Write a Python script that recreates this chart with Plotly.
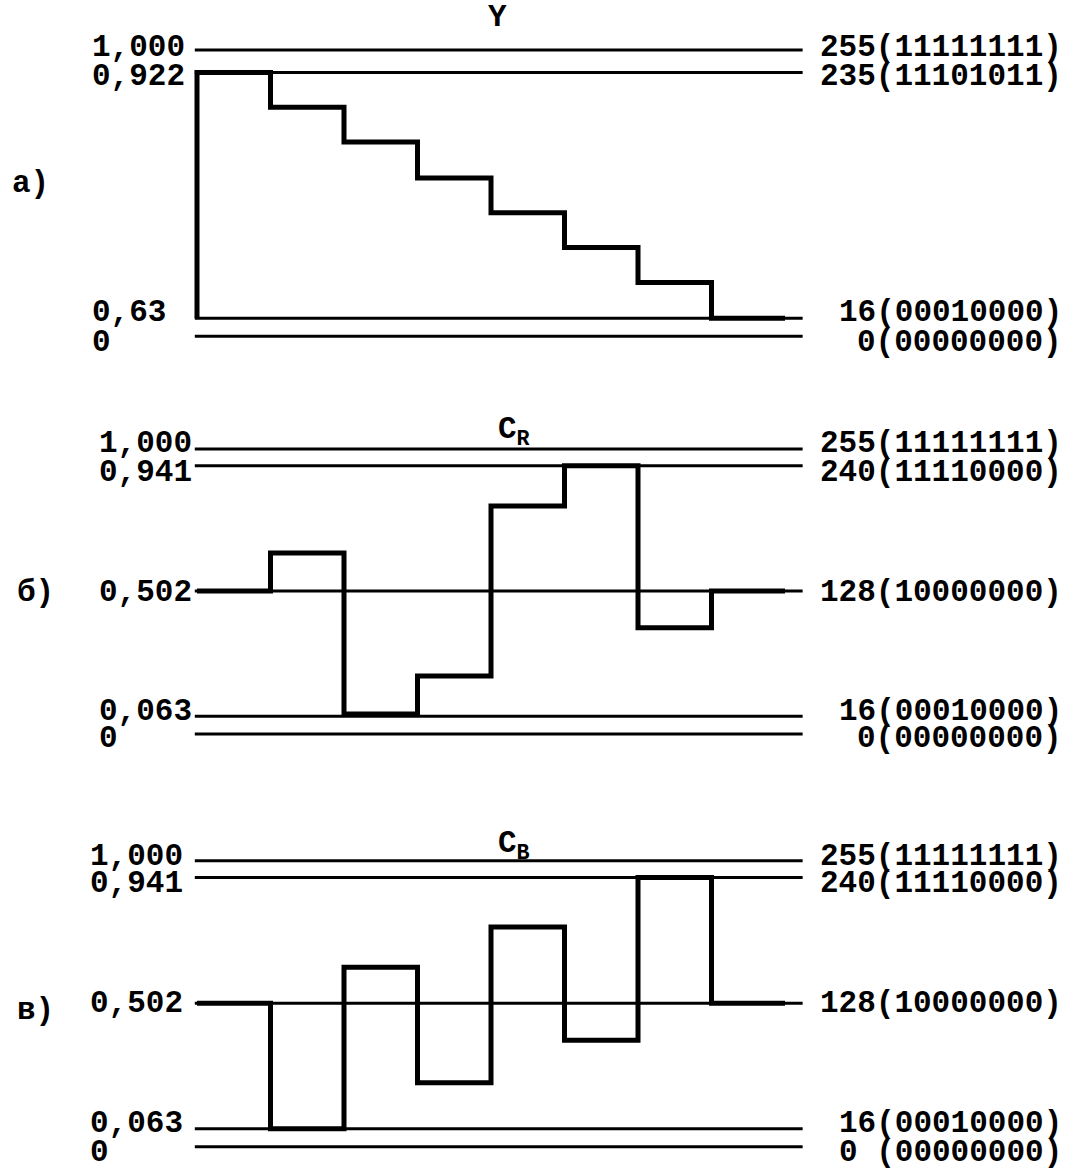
import plotly.graph_objects as go

# ---------------- data ----------------
bars = list(range(9))                      # bar boundaries (8 colour bars)
y_black = 16
y_levels = [235, 204, 173, 141, 110, 79, 48, 16]
cr_levels = [128, 162, 18, 52, 204, 240, 95, 128]
cb_levels = [128, 16, 160, 57, 196, 95, 240, 128]

y_ref_codes = [255, 235, 16, 0]
y_left_labels = ["1,000", "0,922", "0,63", "0"]
y_right_labels = ["255(11111111)", "235(11101011)", "16(00010000)", "0(00000000)"]

c_ref_codes = [255, 240, 128, 16, 0]
c_left_labels = ["1,000", "0,941", "0,502", "0,063", "0"]
cr_right_labels = ["255(11111111)", "240(11110000)", "128(10000000)", "16(00010000)", "0(00000000)"]
cb_right_labels = ["255(11111111)", "240(11110000)", "128(10000000)", "16(00010000)", "0 (00000000)"]

titles = ["Y", "C<sub>R</sub>", "C<sub>B</sub>"]
panel_tags = ["а)", "б)", "в)"]

# ---------------- layout ----------------
W, H = 1074, 1175
FONT = dict(family="Liberation Mono", size=31, color="black", weight="bold")
ref_x = [-0.03, 8.24]

fig = go.Figure()

panels = [
    dict(axis="y", levels=y_levels, start=[y_black], refs=y_ref_codes,
         left=y_left_labels, right=y_right_labels, lx=90,
         label_px=[47, 76, 312, 342], rng=[-746.72, 299.46]),
    dict(axis="y2", levels=cr_levels, start=[], refs=c_ref_codes,
         left=c_left_labels, right=cr_right_labels, lx=97,
         label_px=[443, 472, 592, 711, 738], rng=[-394.53, 656.75]),
    dict(axis="y3", levels=cb_levels, start=[], refs=c_ref_codes,
         left=c_left_labels, right=cb_right_labels, lx=88,
         label_px=[856, 883, 1003, 1123, 1152], rng=[-25.16, 1022.21]),
]

annotations = []
for p in panels:
    for code in p["refs"]:
        fig.add_trace(go.Scatter(x=ref_x, y=[code, code], mode="lines",
                                 line=dict(color="black", width=3),
                                 yaxis=p["axis"], hoverinfo="skip", showlegend=False))
    xs = [bars[0]] * len(p["start"]) + bars
    ys = p["start"] + p["levels"] + [p["levels"][-1]]
    fig.add_trace(go.Scatter(x=xs, y=ys, mode="lines", line_shape="hv",
                             line=dict(color="black", width=5),
                             yaxis=p["axis"], showlegend=False))
    for py, lt, rt in zip(p["label_px"], p["left"], p["right"]):
        annotations.append(dict(x=p["lx"] / W, xref="paper", y=1 - py / H, yref="paper",
                                text=lt, showarrow=False, xanchor="left",
                                yanchor="middle", font=FONT))
        annotations.append(dict(x=1064 / W, xref="paper", y=1 - py / H, yref="paper",
                                text=rt, showarrow=False, xanchor="right",
                                yanchor="middle", font=FONT))

title_pos = [(497, 17), (514, 432), (514, 846)]
tag_pos = [(10, 183), (15, 592), (15, 1010)]
for t, (px, py) in zip(titles, title_pos):
    annotations.append(dict(x=px / W, y=1 - py / H, xref="paper", yref="paper",
                            text=t, showarrow=False, xanchor="center",
                            yanchor="middle", font=FONT))
for t, (px, py) in zip(panel_tags, tag_pos):
    annotations.append(dict(x=px / W, y=1 - py / H, xref="paper", yref="paper",
                            text=t, showarrow=False, xanchor="left",
                            yanchor="middle", font=FONT))

hidden = dict(visible=False, showgrid=False, zeroline=False, fixedrange=True)
fig.update_layout(
    width=W, height=H,
    margin=dict(l=0, r=0, t=0, b=0),
    paper_bgcolor="white", plot_bgcolor="white",
    showlegend=False,
    xaxis=dict(range=[-197 / 73.5, (W - 197) / 73.5], domain=[0, 1], **hidden),
    yaxis=dict(range=panels[0]["rng"], domain=[0, 1], **hidden),
    yaxis2=dict(range=panels[1]["rng"], domain=[0, 1], overlaying="y", **hidden),
    yaxis3=dict(range=panels[2]["rng"], domain=[0, 1], overlaying="y", **hidden),
    annotations=annotations,
)

fig.write_html("out.html", post_script="document.body.style.margin='0';",
               config={"displayModeBar": False})
